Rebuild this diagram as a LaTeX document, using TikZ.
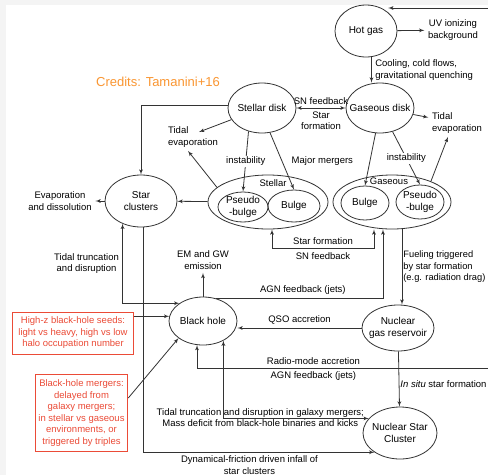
\documentclass[tikz,border=0pt]{standalone}
\usepackage{fontspec}
\setmainfont{Liberation Sans}
\usepackage{tikz}
\usetikzlibrary{shapes.geometric}
\usetikzlibrary{positioning}
\usetikzlibrary{arrows}

\definecolor{credit}{RGB}{250,150,50}
\definecolor{seedred}{RGB}{235,75,55}
\definecolor{margin}{RGB}{244,244,244}

\begin{document}
\begin{tikzpicture}[->,>=latex',x=1pt,y=1pt,line width=0.8pt,draw=black!80,
	every node/.style={font=\fontsize{9.5}{11.5}\selectfont},
	main node/.style={ellipse,draw,inner xsep=-20pt,inner ysep=-4pt,align=center,
		font=\fontsize{10}{12}\selectfont},
	group node/.style={ellipse,draw,inner sep=0pt},
	red box/.style={rectangle,draw=seedred,text=seedred,align=center,line width=0.8pt}]
	
	\useasboundingbox (0,0) rectangle (488,-475);
	\fill[margin] (0,0) rectangle (488,-475);
	\fill[white] (6,-5) rectangle (488,-475);
	
	% gas and disks
	\node[main node, minimum width=62pt, minimum height=52pt] (hot) at (366,-31) {Hot gas};
	\node[main node, minimum width=68pt, minimum height=50pt] (gdisk) [below of=hot, node distance=77pt, xshift=14pt] {Gaseous disk};
	\node[main node, minimum width=68pt, minimum height=50pt] (sdisk) [left of=gdisk, node distance=118pt] {Stellar disk};
	
	% bulges
	\node[group node, minimum width=120pt, minimum height=54pt] (sgroup) [below of=sdisk, node distance=94pt, xshift=6pt] {};
	\node[group node, minimum width=118pt, minimum height=54pt] (ggroup) [below of=gdisk, node distance=94pt, xshift=12pt] {};
	\node (stellar) [above of=sgroup, node distance=19pt, xshift=5pt] {Stellar};
	\node (gaseous) [above of=ggroup, node distance=21pt, xshift=-3pt] {Gaseous};
	\node[main node, minimum width=50pt, minimum height=30pt] (sps) [left of=sgroup, node distance=25pt, yshift=-5pt] {Pseudo\\-bulge};
	\node[main node, minimum width=52pt, minimum height=32pt] (sbulge) [right of=sgroup, node distance=26pt, yshift=-4pt] {Bulge};
	\node[main node, minimum width=48pt, minimum height=34pt] (gbulge) [left of=ggroup, node distance=27pt, yshift=-1pt] {Bulge};
	\node[main node, minimum width=48pt, minimum height=34pt] (gps) [right of=ggroup, node distance=28pt] {Pseudo\\-bulge};
	
	\node[main node, minimum width=72pt, minimum height=52pt] (clusters) [left of=sgroup, node distance=127pt, yshift=1pt] {Star\\clusters};
	\node[main node, minimum width=68pt, minimum height=48pt] (bh) [below of=clusters, node distance=120pt, xshift=62pt] {Black hole};
	\node[main node, minimum width=72pt, minimum height=46pt] (res) [below of=ggroup, node distance=126pt, xshift=6pt] {Nuclear\\gas reservoir};
	\node[main node, minimum width=74pt, minimum height=52pt] (nsc) [below of=res, node distance=105pt, xshift=2pt] {Nuclear Star\\Cluster};
	
	% free texts
	\node[text=credit, font=\fontsize{13}{15}\selectfont] (credits) [left of=sdisk, node distance=104pt, yshift=26pt] {Credits: Tamanini+16};
	\node[align=center] (uv) [right of=hot, node distance=87pt, yshift=1pt] {UV ionizing\\background};
	\node[align=left] (tevl) [left of=sdisk, node distance=69pt, yshift=-29pt] {Tidal\\evaporation};
	\node[align=left] (tevr) [right of=gdisk, node distance=77pt, yshift=-15pt] {Tidal\\evaporation};
	\node[align=center] (evap) [left of=clusters, node distance=81pt] {Evaporation\\and dissolution};
	\node[align=center] (em) [above of=bh, node distance=61pt] {EM and GW\\emission};
	\node[red box, minimum width=121pt, minimum height=42pt] (seeds) [left of=bh, node distance=130pt, yshift=-12pt] {High-z black-hole seeds:\\light vs heavy, high vs low\\halo occupation number};
	\node[red box, minimum width=92pt, minimum height=77pt] (mergers) [below of=seeds, node distance=80pt, xshift=8.5pt] {Black-hole mergers:\\delayed from\\galaxy mergers;\\in stellar vs gaseous\\environments, or\\triggered by triples};
	
	\coordinate (topin) at (488,-8);
	\coordinate (radioin) at (488,-368);
	
	% connectors
	\draw (topin) -- (topin -| hot.north east);
	\draw (hot) -- (uv);
	\draw (hot.282) -- node[right,align=left] {Cooling, cold flows,\\gravitational quenching} (hot.282 |- gdisk.north);
	\draw[<->] (sdisk) -- node[above] {SN feedback} node[below,align=center] {Star\\formation} (gdisk);
	\draw (sdisk.175) -| (clusters);
	\draw (sdisk) -- ([xshift=6pt,yshift=5pt]tevl.center);
	\draw (sgroup.164) -- ([xshift=-5pt]tevl.south);
	\draw (sdisk.240) -- node[fill=white,inner sep=1pt] {instability} (sps.north);
	\draw (sdisk.288) -- node[right=6pt] {Major mergers} (sbulge.north);
	\draw (gdisk.260) -- (gbulge.north);
	\draw (gdisk.298) -- node[fill=white,inner sep=1pt] {instability} (gps.north);
	\draw (gdisk) -- (tevr);
	\draw (ggroup.28) -- ([xshift=-9pt]tevr.south);
	\draw (sgroup) -- (clusters);
	\draw (clusters) -- (evap);
	\draw[<->] ([xshift=4pt]sgroup.south) -- ++(0,-19) -| node[pos=0.25,above] {Star formation} node[pos=0.25,below] {SN feedback} ([xshift=-18pt]ggroup.south);
	\draw ([xshift=10pt]ggroup.south) -- node[right,align=left,inner sep=1pt,font=\fontsize{9.3}{11.5}\selectfont] {Fueling triggered\\by star formation\\(e.g. radiation drag)} ([xshift=10pt]ggroup.south |- res.north);
	\draw (bh) -- (em);
	\draw (bh.60) -| node[pos=0.26,above] {AGN feedback (jets)} ([xshift=-9pt]ggroup.south);
	\draw[<->] (clusters.231) |- node[pos=0.25,left,align=center] {Tidal truncation\\and disruption} (bh.143);
	\draw ([xshift=2pt]clusters.south) |- node[pos=0.73,below,align=center] {Dynamical-friction driven infall of\\star clusters} (nsc.217);
	\draw (seeds.east |- bh.172) -- (bh.172);
	\draw ([yshift=15pt]mergers.east) -- (bh.215);
	\draw (res.west) -- node[above] {QSO accretion} (res.west -| bh.east);
	\draw (res) -- node[pos=0.6,right,inner sep=1pt] {\textit{In situ} star formation} (nsc);
	\draw (radioin) -| node[pos=0.3,above] {Radio-mode accretion} node[pos=0.3,below] {AGN feedback (jets)} (bh.256);
	\draw[<->] (bh.316) |- node[pos=0.627,above,inner sep=1pt] {Tidal truncation and disruption in galaxy mergers;} node[pos=0.627,below,inner sep=1pt] {Mass deficit from black-hole binaries and kicks} (nsc.155);
\end{tikzpicture}
\end{document}
